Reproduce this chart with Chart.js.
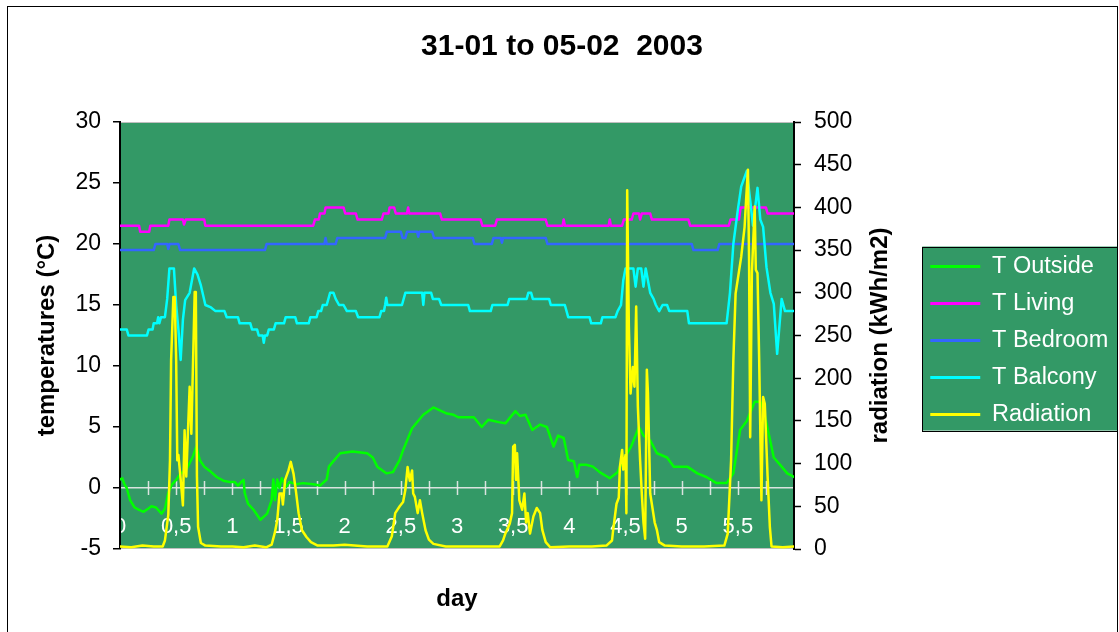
<!DOCTYPE html>
<html><head><meta charset="utf-8">
<script src="https://cdn.jsdelivr.net/npm/chart.js@4.4.0/dist/chart.umd.min.js"></script>
<style>
html,body{margin:0;padding:0;background:#fff;}
#wrap{position:relative;width:1119px;height:632px;overflow:hidden;}
#frame{position:absolute;left:7px;top:6px;width:1109px;height:700px;border:1px solid #000;pointer-events:none;}
canvas{position:absolute;left:0;top:0;}
</style></head><body>
<div id="wrap"><canvas id="c" width="1119" height="632"></canvas><div id="frame"></div></div>
<script>
// ---- data: [day, value] ----
const seriesNames = ['T Outside','T Living','T Bedroom','T Balcony','Radiation'];
const xTickLabels = ['0','0,5','1','1,5','2','2,5','3','3,5','4','4,5','5','5,5',''];
const tOutside = [[0,0.7],[0.02,0.8],[0.04,0.3],[0.06,0],[0.09,-1],[0.13,-1.6],[0.17,-1.8],[0.21,-1.95],[0.25,-1.7],[0.28,-1.5],[0.32,-1.6],[0.37,-2.1],[0.40,-1.7],[0.43,-0.4],[0.46,0.25],[0.50,0.66],[0.54,1.2],[0.59,1.5],[0.65,2.6],[0.68,3.4],[0.71,2.3],[0.75,1.75],[0.80,1.4],[0.86,0.9],[0.92,0.6],[0.97,0.5],[1.02,0.5],[1.05,0.2],[1.08,0.5],[1.10,0.66],[1.11,-0.4],[1.14,-1.3],[1.19,-1.8],[1.25,-2.6],[1.31,-2.1],[1.35,-1.0],[1.365,0.7],[1.38,-1.0],[1.40,0.7],[1.42,0.0],[1.44,0.8],[1.48,0.1],[1.51,0.5],[1.57,0.3],[1.63,0.4],[1.72,0.3],[1.78,0.2],[1.84,0.7],[1.86,1.75],[1.90,2.2],[1.96,2.85],[2.07,3.0],[2.20,2.85],[2.25,2.5],[2.29,1.75],[2.37,1.2],[2.43,1.3],[2.49,2.3],[2.52,3.1],[2.60,4.9],[2.70,6.0],[2.79,6.6],[2.91,6.1],[2.97,6.0],[3.01,5.8],[3.15,5.8],[3.22,5.0],[3.28,5.6],[3.37,5.4],[3.43,5.3],[3.52,6.3],[3.56,5.9],[3.61,6.0],[3.67,4.75],[3.74,5.2],[3.80,5.0],[3.86,3.4],[3.90,4.3],[3.95,4.1],[3.99,2.3],[4.04,2.2],[4.07,0.9],[4.09,1.9],[4.15,1.9],[4.21,1.75],[4.27,1.3],[4.36,0.8],[4.43,1.3],[4.48,2.3],[4.55,3.4],[4.62,5.0],[4.66,4.3],[4.72,3.9],[4.78,2.85],[4.87,2.5],[4.93,1.75],[5.05,1.75],[5.14,1.2],[5.22,0.9],[5.31,0.4],[5.40,0.4],[5.46,1.2],[5.52,4.75],[5.58,5.5],[5.65,7.07],[5.70,7.07],[5.73,6.4],[5.82,2.5],[5.89,1.75],[5.94,1.2],[6.0,0.9]];
const tLiving = [[0,21.5],[0.17,21.5],[0.18,21],[0.26,21],[0.27,21.5],[0.43,21.5],[0.44,22],[0.56,22],[0.57,21.6],[0.585,22],[0.75,22],[0.76,21.5],[1.72,21.5],[1.735,22],[1.77,22],[1.78,22.5],[1.82,22.5],[1.83,23],[1.99,23],[2.005,22.5],[2.10,22.5],[2.115,22],[2.33,22],[2.345,22.5],[2.39,22.5],[2.40,23],[2.44,23],[2.455,22.5],[2.555,22.5],[2.565,23],[2.575,22.5],[2.85,22.5],[2.865,22],[3.21,22],[3.225,21.5],[3.34,21.5],[3.355,22],[3.79,22],[3.805,21.5],[3.94,21.5],[3.95,22],[3.96,21.5],[4.35,21.5],[4.36,22],[4.37,21.5],[4.47,21.5],[4.485,22],[4.555,22],[4.57,22.5],[4.62,22.5],[4.63,22],[4.645,22.5],[4.72,22.5],[4.735,22],[5.06,22],[5.075,21.5],[5.42,21.5],[5.435,22],[5.51,22],[5.525,23],[5.75,23],[5.765,22.5],[6.0,22.5]];
const tBedroom = [[0,19.5],[0.30,19.5],[0.315,20],[0.42,20],[0.43,19.6],[0.44,20],[0.52,20],[0.535,19.5],[1.29,19.5],[1.305,20],[1.82,20],[1.83,20.5],[1.84,20],[1.92,20],[1.935,20.5],[2.36,20.5],[2.375,21],[2.50,21],[2.515,20.5],[2.54,20.5],[2.555,21],[2.645,21],[2.655,20.6],[2.665,21],[2.78,21],[2.795,20.5],[3.14,20.5],[3.155,20],[3.31,20],[3.325,20.5],[3.39,20.5],[3.40,20.1],[3.41,20.5],[3.79,20.5],[3.805,20],[5.09,20],[5.105,19.5],[5.32,19.5],[5.335,20],[6.0,20]];
const tBalcony = [[0,13],[0.06,13],[0.075,12.5],[0.24,12.5],[0.255,13],[0.29,13],[0.30,13.5],[0.33,13.5],[0.34,14],[0.35,13.5],[0.365,14],[0.40,14],[0.42,15.5],[0.44,18],[0.48,18],[0.50,15],[0.52,13],[0.54,10.5],[0.56,13.8],[0.58,15.4],[0.62,16],[0.66,18],[0.69,17.5],[0.72,16.6],[0.76,15],[0.81,14.8],[0.85,14.5],[0.93,14.5],[0.95,14],[1.05,14],[1.065,13.5],[1.16,13.5],[1.175,13],[1.22,13],[1.235,12.5],[1.27,12.5],[1.28,11.9],[1.29,12.5],[1.31,12.5],[1.325,13],[1.37,13],[1.385,13.5],[1.46,13.5],[1.475,14],[1.56,14],[1.575,13.5],[1.68,13.5],[1.695,14],[1.75,14],[1.765,14.5],[1.79,14.5],[1.805,15],[1.84,15],[1.87,16],[1.90,16],[1.92,15.5],[1.95,15],[1.99,15],[2.02,14.5],[2.10,14.5],[2.12,14],[2.31,14],[2.325,14.5],[2.35,14.5],[2.36,15],[2.37,15.6],[2.38,15],[2.51,15],[2.54,16],[2.69,16],[2.70,15],[2.71,16],[2.77,16],[2.785,15.5],[2.84,15.5],[2.86,15],[3.10,15],[3.115,14.5],[3.30,14.5],[3.315,15],[3.45,15],[3.465,15.5],[3.62,15.5],[3.635,16],[3.66,16],[3.675,15.5],[3.82,15.5],[3.835,15],[3.96,15],[3.99,14],[4.18,14],[4.195,13.5],[4.28,13.5],[4.295,14],[4.41,14],[4.43,14.5],[4.46,15],[4.48,17],[4.50,18],[4.57,18],[4.59,16.5],[4.61,18],[4.64,18],[4.66,16.5],[4.68,18],[4.72,16],[4.75,15.5],[4.77,15],[4.80,14.5],[4.83,15],[4.87,15],[4.89,14.5],[5.05,14.5],[5.065,13.5],[5.40,13.5],[5.43,16],[5.46,20],[5.50,22.8],[5.53,24.7],[5.58,26],[5.61,23.6],[5.635,21.5],[5.675,24.6],[5.70,22],[5.725,21.4],[5.755,18.1],[5.79,16],[5.82,15.1],[5.85,11],[5.89,15.5],[5.92,14.5],[6.0,14.5]];
const radiation = [[0,3],[0.10,2],[0.20,4],[0.30,3],[0.38,3],[0.40,10],[0.43,40],[0.445,104],[0.455,221],[0.475,295],[0.487,295],[0.50,221],[0.51,104],[0.52,110],[0.535,89],[0.56,51],[0.575,139],[0.59,85],[0.62,190],[0.635,135],[0.645,190],[0.665,301],[0.675,301],[0.685,85],[0.695,26],[0.72,7],[0.76,4],[0.90,3],[1.0,3],[1.1,2],[1.2,4],[1.3,2],[1.35,5],[1.38,20],[1.40,34],[1.42,65],[1.44,65],[1.45,52],[1.47,81],[1.50,92],[1.52,102],[1.545,88],[1.565,69],[1.59,42],[1.62,22],[1.66,14],[1.70,8],[1.76,4],[1.90,4],[2.0,5],[2.2,3],[2.38,3],[2.42,15],[2.45,42],[2.49,50],[2.52,55],[2.54,69],[2.56,96],[2.58,80],[2.60,92],[2.61,65],[2.625,61],[2.65,42],[2.67,57],[2.69,42],[2.72,22],[2.75,11],[2.79,6],[2.9,3],[3.2,3],[3.38,3],[3.41,10],[3.43,18],[3.47,30],[3.49,42],[3.50,120],[3.515,122],[3.525,81],[3.535,112],[3.555,57],[3.58,46],[3.60,65],[3.615,31],[3.63,42],[3.65,18],[3.68,38],[3.71,48],[3.74,42],[3.76,22],[3.79,8],[3.83,2],[4.0,3],[4.2,3],[4.33,4],[4.38,10],[4.39,22],[4.42,53],[4.44,60],[4.45,96],[4.47,116],[4.48,93],[4.50,110],[4.508,42],[4.515,420],[4.53,260],[4.545,182],[4.565,213],[4.58,190],[4.595,284],[4.61,167],[4.63,104],[4.645,65],[4.66,31],[4.675,12],[4.69,210],[4.70,182],[4.72,65],[4.76,31],[4.78,22],[4.80,8],[4.85,4],[5.0,3],[5.2,3],[5.38,4],[5.41,18],[5.44,104],[5.46,221],[5.48,299],[5.53,342],[5.56,377],[5.575,412],[5.59,444],[5.60,338],[5.61,131],[5.625,323],[5.65,401],[5.66,327],[5.675,323],[5.69,221],[5.71,57],[5.725,178],[5.74,170],[5.765,85],[5.785,26],[5.80,3],[5.9,2],[6.0,3]];

// ---- styling ----
const FONT = "'Liberation Sans', Arial, sans-serif";
const PLOT_BG = '#339966';
const COLORS = ['#00FF00','#FF00FF','#3366FF','#00FFFF','#FFFF00'];
const ZERO = 'rgba(235,235,235,0.9)';
const LEGEND_W = 202.25;

function pts(a){ return a.map(p => ({x:p[0], y:p[1]})); }
function ds(i, data, axis, order){
  return {label:seriesNames[i], data:pts(data), borderColor:COLORS[i], backgroundColor:COLORS[i],
    borderWidth:2.5, pointRadius:0, tension:0, yAxisID:axis, order:order, fill:false,
    borderJoinStyle:'round', borderCapStyle:'round'};
}

const decor = {
  id:'decor',
  beforeUpdate(chart){
    const lg = chart.legend;
    if (lg && !lg._wPatched){
      const f = lg.fit;
      lg.fit = function(){ f.call(this); this.width = LEGEND_W; };
      lg._wPatched = true;
    }
  },
  beforeDraw(chart){
    const {ctx, chartArea:a} = chart;
    ctx.save();
    ctx.fillStyle = PLOT_BG;
    ctx.fillRect(a.left, a.top, a.right-a.left, a.bottom-a.top);
    ctx.strokeStyle = '#bfbfbf'; ctx.lineWidth = 1;
    ctx.strokeRect(a.left+0.5, a.top+0.5, a.right-a.left-1, a.bottom-a.top-1);
    const lg = chart.legend;
    if (lg && lg.legendHitBoxes && lg.legendHitBoxes.length){
      const hb = lg.legendHitBoxes;
      const first = hb[0], last = hb[hb.length-1];
      const x0 = first.left - 8;
      const x1 = chart.width - 1;
      const y0 = first.top + first.height/2 - 20;
      const y1 = last.top + last.height/2 + 16;
      ctx.fillStyle = PLOT_BG; ctx.fillRect(x0, y0, x1-x0, y1-y0);
      ctx.strokeStyle = '#000'; ctx.lineWidth = 1;
      ctx.strokeRect(Math.round(x0)+0.5, Math.round(y0)+0.5, Math.round(x1-x0)-1, Math.round(y1-y0));
    }
    ctx.restore();
  },
  beforeDatasetsDraw(chart){
    const {ctx} = chart; const xs = chart.scales.x, ys = chart.scales.y;
    const y0 = ys.getPixelForValue(0);
    ctx.save(); ctx.strokeStyle = ZERO; ctx.lineWidth = 1.5;
    for (let v = 0.25; v < xs.max; v += 0.25){
      const px = Math.round(xs.getPixelForValue(v)) + 0.5;
      ctx.beginPath(); ctx.moveTo(px, y0-7); ctx.lineTo(px, y0+7); ctx.stroke();
    }
    ctx.restore();
  },
  afterDraw(chart){
    const {ctx, chartArea:a} = chart; const s = chart.scales.y2;
    ctx.save();
    ctx.translate(s.left + 86, (a.top + a.bottom)/2);
    ctx.rotate(-Math.PI/2);
    ctx.fillStyle = '#000'; ctx.font = "bold 24px " + FONT;
    ctx.textAlign = 'center'; ctx.textBaseline = 'middle';
    ctx.fillText('radiation (kWh/m2)', 0, 0);
    ctx.restore();
  }
};

new Chart(document.getElementById('c'), {
  type:'line',
  data:{datasets:[
    ds(0, tOutside, 'y', 5),
    ds(1, tLiving, 'y', 4),
    ds(2, tBedroom, 'y', 3),
    ds(3, tBalcony, 'y', 2),
    ds(4, radiation, 'y2', 1)
  ]},
  options:{
    responsive:false, animation:false, devicePixelRatio:1, events:[],
    layout:{padding:{left:5,right:0,top:0,bottom:0}},
    plugins:{
      tooltip:{enabled:false},
      title:{display:true, text:'31-01 to 05-02  2003', color:'#000',
        font:{family:FONT, size:30, weight:'bold'}, padding:{top:28.5, bottom:57.5}},
      legend:{position:'right', fullSize:false, align:'center',
        title:{display:true, text:'', padding:0, font:{family:FONT, size:8.4}},
        labels:{boxWidth:50, boxHeight:3, padding:13.5, color:'#fff', font:{family:FONT, size:23.5},
          generateLabels(chart){
            return chart.data.datasets.map((d,i) => ({text:d.label, fillStyle:d.borderColor,
              strokeStyle:d.borderColor, lineWidth:0, hidden:false, datasetIndex:i, fontColor:'#fff'}));
          }}}
    },
    scales:{
      x:{type:'linear', position:'bottom', min:0, max:6,
        ticks:{stepSize:0.5, autoSkip:false, maxRotation:0, minRotation:0, mirror:true, padding:9,
          color:'#fff', font:{family:FONT, size:22},
          callback:(v) => { const i = Math.round(v*2); return xTickLabels[i] !== undefined ? xTickLabels[i] : ''; }},
        grid:{display:false, drawTicks:false},
        border:{display:false},
        title:{display:true, text:'day', color:'#000', font:{family:FONT, size:24, weight:'bold'}, padding:{top:0, bottom:18}},
        afterFit(s){ s.height = 83; }
      },
      y:{position:'left', min:-5, max:30,
        ticks:{stepSize:5, color:'#000', font:{family:FONT, size:23}, padding:12, callback:(v)=>String(v)},
        grid:{color:(c) => (c.tick && c.tick.value === 0) ? ZERO : 'rgba(0,0,0,0)', lineWidth:1.5,
          tickLength:7, tickColor:'#000', tickWidth:1.5},
        border:{display:true, color:'#000', width:2},
        title:{display:true, text:'temperatures (°C)', color:'#000', font:{family:FONT, size:24, weight:'bold'}, padding:{top:27.5, bottom:0}},
        afterFit(s){ s.width = 115; }
      },
      y2:{position:'right', min:0, max:500,
        ticks:{stepSize:50, color:'#000', font:{family:FONT, size:23}, padding:13},
        grid:{drawOnChartArea:false, tickLength:7, tickColor:'#000', tickWidth:1.5},
        border:{display:true, color:'#000', width:2},
        afterFit(s){ s.width = 122.75; }
      }
    }
  },
  plugins:[decor]
});
</script>
</body></html>
